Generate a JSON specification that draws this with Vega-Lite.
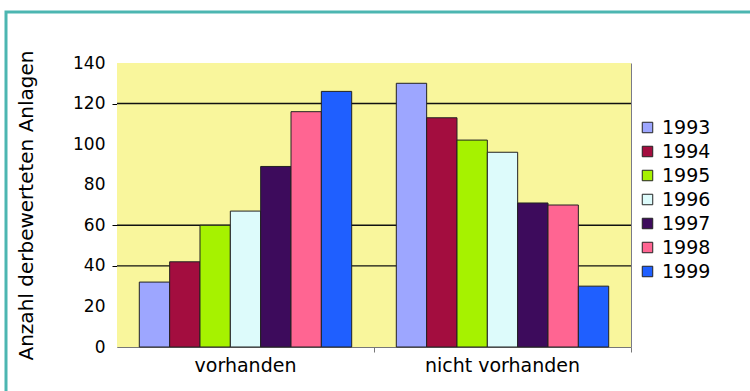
{
  "$schema": "https://vega.github.io/schema/vega-lite/v6.json",
  "width": 747,
  "height": 382,
  "autosize": {"type": "none"},
  "padding": {"left": 6, "top": 12, "right": -3, "bottom": -3},
  "background": "white",
  "config": {
    "font": "DejaVu Sans",
    "view": {"stroke": "#4CB6B1", "strokeWidth": 3, "fill": "white"}
  },
  "datasets": {
    "anlagen": [
      {"Kategorie": "vorhanden", "Jahr": "1993", "Anzahl": 32},
      {"Kategorie": "vorhanden", "Jahr": "1994", "Anzahl": 42},
      {"Kategorie": "vorhanden", "Jahr": "1995", "Anzahl": 60},
      {"Kategorie": "vorhanden", "Jahr": "1996", "Anzahl": 67},
      {"Kategorie": "vorhanden", "Jahr": "1997", "Anzahl": 89},
      {"Kategorie": "vorhanden", "Jahr": "1998", "Anzahl": 116},
      {"Kategorie": "vorhanden", "Jahr": "1999", "Anzahl": 126},
      {"Kategorie": "nicht vorhanden", "Jahr": "1993", "Anzahl": 130},
      {"Kategorie": "nicht vorhanden", "Jahr": "1994", "Anzahl": 113},
      {"Kategorie": "nicht vorhanden", "Jahr": "1995", "Anzahl": 102},
      {"Kategorie": "nicht vorhanden", "Jahr": "1996", "Anzahl": 96},
      {"Kategorie": "nicht vorhanden", "Jahr": "1997", "Anzahl": 71},
      {"Kategorie": "nicht vorhanden", "Jahr": "1998", "Anzahl": 70},
      {"Kategorie": "nicht vorhanden", "Jahr": "1999", "Anzahl": 30}
    ],
    "gitter": [{"Wert": 40}, {"Wert": 60}, {"Wert": 120}]
  },
  "resolve": {"scale": {"x": "independent"}, "axis": {"y": "independent"}},
  "layer": [
    {
      "description": "Plot background",
      "data": {"values": [{}]},
      "mark": {"type": "rect", "fill": "#F9F69C"},
      "encoding": {
        "x": {"datum": 0, "type": "quantitative", "scale": {"domain": [0, 1], "range": [111, 625], "nice": false}, "axis": null},
        "x2": {"datum": 1},
        "y": {
          "datum": 0, "type": "quantitative",
          "scale": {"domain": [0, 140], "range": [335, 51], "nice": false},
          "axis": {"orient": "right", "offset": -122, "labels": false, "ticks": false, "grid": false, "title": null, "domainColor": "#7A7A88", "domainWidth": 1}
        },
        "y2": {"datum": 140}
      }
    },
    {
      "description": "Horizontal gridlines",
      "data": {"name": "gitter"},
      "mark": {"type": "rule", "color": "#111", "strokeWidth": 1.4},
      "encoding": {
        "x": {"datum": 0, "type": "quantitative", "scale": {"domain": [0, 1], "range": [111, 625], "nice": false}, "axis": null},
        "x2": {"datum": 1},
        "y": {"field": "Wert", "type": "quantitative", "axis": null}
      }
    },
    {
      "description": "Bars",
      "data": {"name": "anlagen"},
      "mark": {"type": "bar", "stroke": "#222", "strokeWidth": 1},
      "encoding": {
        "x": {
          "field": "Kategorie", "type": "nominal", "sort": ["vorhanden", "nicht vorhanden"],
          "scale": {"range": [111, 625], "paddingInner": 0, "paddingOuter": 0},
          "axis": {
            "title": null, "orient": "bottom", "offset": -47, "labelAngle": 0,
            "bandPosition": 1, "labelOffset": 0,
            "labelFontSize": 19, "labelColor": "#000", "labelPadding": 4,
            "tickSize": 5, "tickColor": "#777", "domainColor": "#777", "grid": false
          }
        },
        "xOffset": {"field": "Jahr", "type": "nominal", "scale": {"paddingOuter": 0.735, "paddingInner": 0}},
        "y": {
          "field": "Anzahl", "type": "quantitative",
          "scale": {"domain": [0, 140], "range": [335, 51], "nice": false},
          "axis": {
            "orient": "left", "offset": -111,
            "values": [0, 20, 40, 60, 80, 100, 120, 140],
            "grid": false,
            "labelFontSize": 17, "labelColor": "#000", "labelPadding": 7,
            "tickSize": 5, "tickColor": "#000",
            "tickOpacity": {"condition": {"test": "datum.value === 40 || datum.value === 60 || datum.value === 120", "value": 1}, "value": 0},
            "domainColor": "#777",
            "title": "Anzahl derbewerteten Anlagen",
            "titleFontSize": 20, "titleFontWeight": "normal", "titleColor": "#000", "titlePadding": 36
          }
        },
        "color": {
          "field": "Jahr", "type": "nominal",
          "scale": {
            "domain": ["1993", "1994", "1995", "1996", "1997", "1998", "1999"],
            "range": ["#9DA6FF", "#A30D3F", "#A6F200", "#DDFBFB", "#3D0B5C", "#FF6592", "#1F5FFF"]
          },
          "legend": {
            "title": null, "orient": "none", "legendX": 632, "legendY": 106,
            "labelFontSize": 19, "labelColor": "#000", "labelOffset": 5,
            "symbolType": "square", "symbolSize": 110, "symbolStrokeColor": "#222", "symbolStrokeWidth": 1,
            "symbolOpacity": 1, "rowPadding": 4, "padding": 0
          }
        }
      }
    }
  ]
}
